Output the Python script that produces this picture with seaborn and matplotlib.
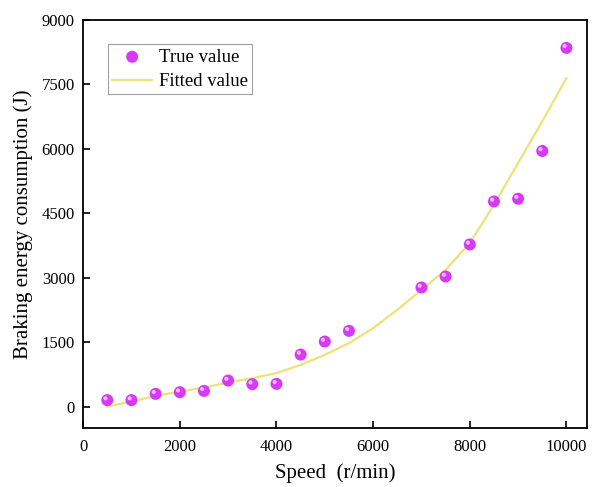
import matplotlib
matplotlib.use('Agg')
import matplotlib.pyplot as plt
import matplotlib.transforms as mtransforms
import numpy as np
import pandas as pd
import seaborn as sns

# --- Dados ---
speed_true = [500, 1000, 1500, 2000, 2500, 3000, 3500, 4000, 4500, 5000,
              5500, 7000, 7500, 8000, 8500, 9000, 9500, 10000]
energy_true = [150, 150, 296, 335, 366, 606, 522, 529, 1211, 1514,
               1763, 2772, 3028, 3774, 4775, 4838, 5950, 8350]

speed_fit = [500, 1000, 1500, 2000, 2500, 3000, 3500, 4000, 4500, 5000,
             5500, 6000, 6500, 7000, 7500, 8000, 8500, 9000, 9500, 10000]
energy_fit = [0, 117, 249, 350, 443, 560, 660, 778, 971, 1204,
              1477, 1826, 2253, 2718, 3184, 3806, 4698, 5670, 6640, 7650]

xticks = [0, 2000, 4000, 6000, 8000, 10000]
yticks = [0, 1500, 3000, 4500, 6000, 7500, 9000]

df_true = pd.DataFrame({'speed': speed_true, 'energy': energy_true})
df_fit = pd.DataFrame({'speed': speed_fit, 'energy': energy_fit})

sns.set_style('ticks')
plt.rcParams['font.family'] = ['Liberation Serif', 'DejaVu Serif']

fig = plt.figure(figsize=(5.98, 4.87), dpi=100)
ax = fig.add_axes([0.139, 0.121, 0.843, 0.838])

sns.lineplot(data=df_fit, x='speed', y='energy', ax=ax, color='#ece27a',
             linewidth=1.6, label='Fitted value', zorder=2)
sns.scatterplot(data=df_true, x='speed', y='energy', ax=ax, color='#d63af5',
                s=75, edgecolor='none', label='True value', zorder=3)
# brilho das "esferas"
hl = mtransforms.offset_copy(ax.transData, fig=fig, x=-1.3, y=1.3, units='points')
ax.scatter(speed_true, energy_true, s=9, color='#f4b8ff', edgecolor='none',
           transform=hl, zorder=4)

ax.set_xlim(0, 10430)
ax.set_ylim(-500, 9000)
ax.set_xticks(xticks)
ax.set_yticks(yticks)
ax.tick_params(direction='in', length=5, width=1.2, labelsize=12, colors='black')
ax.tick_params(axis='x', pad=8)
ax.tick_params(axis='y', pad=6)
for sp in ax.spines.values():
    sp.set_linewidth(1.3)
    sp.set_color('black')

ax.set_xlabel('Speed  (r/min)', fontsize=15, labelpad=6, color='black')
ax.set_ylabel('Braking energy consumption (J)', fontsize=15, labelpad=6, color='black')

handles, labels = ax.get_legend_handles_labels()
order = [labels.index('True value'), labels.index('Fitted value')]
leg = ax.legend([handles[i] for i in order], [labels[i] for i in order],
                loc='upper left', bbox_to_anchor=(0.05, 0.94), fontsize=13.5,
                frameon=True, fancybox=False, edgecolor='#888888',
                handlelength=2.1, borderpad=0.22, labelspacing=0.4,
                handletextpad=0.4, borderaxespad=0)
leg.get_frame().set_linewidth(0.8)
for t in leg.get_texts():
    t.set_color('black')

plt.savefig('out.png', dpi=100)
plt.close()
